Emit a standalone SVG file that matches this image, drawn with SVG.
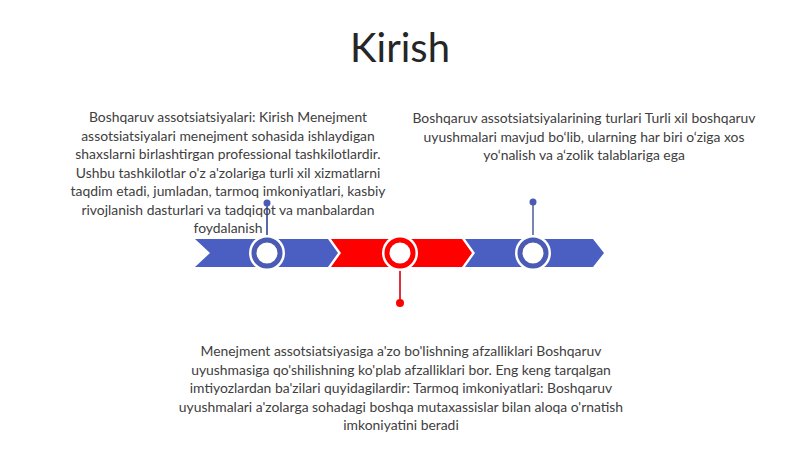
<svg xmlns="http://www.w3.org/2000/svg" width="800" height="449" viewBox="0 0 800 449">
<style>
.t{font-family:Lato,"Open Sans","Liberation Sans",sans-serif;font-size:13.9px;fill:#404040;text-anchor:middle}
.title{font-family:Lato,"Open Sans","Liberation Sans",sans-serif;font-size:40px;fill:#262626;text-anchor:middle}
.blue{fill:#4B5FC2}
.red{fill:#FF0000}
.ringb{fill:#FFFFFF;stroke:#4B5AB3;stroke-width:5}
.ringr{fill:#FFFFFF;stroke:#FF0000;stroke-width:5}
.halo{fill:#FFFFFF}
</style>
<rect width="800" height="449" fill="#FFFFFF"/>
<text class="title" x="400" y="62">Kirish</text>
<g id="band">
<polygon class="blue" points="195,239 328,239 338,253 328,267 195,267 210,253"/>
<polygon class="red" points="331,239 462,239 472,253 462,267 331,267 341,253"/>
<polygon class="blue" points="465,239 593,239 604,253 593,267 465,267 475,253"/>
</g>
<g id="connectors">
<line x1="267" y1="203" x2="267" y2="240" stroke="#5A6AA8" stroke-width="2"/>
<circle cx="267" cy="203" r="3.5" fill="#4B5AB3"/>
<line x1="533" y1="202" x2="533" y2="240" stroke="#7A86B0" stroke-width="2"/>
<circle cx="533" cy="202" r="3.5" fill="#4B5AB3"/>
<line x1="400" y1="266" x2="400" y2="303" stroke="#E0303A" stroke-width="2"/>
<circle cx="400" cy="303" r="4" fill="#FF0000"/>
</g>
<g id="node1">
<circle class="halo" cx="267" cy="253" r="18"/>
<circle class="ringb" cx="267" cy="253" r="13"/>
<text class="t" x="228" y="122">Boshqaruv assotsiatsiyalari: Kirish Menejment</text>
<text class="t" x="228" y="140.5">assotsiatsiyalari menejment sohasida ishlaydigan</text>
<text class="t" x="228" y="159">shaxslarni birlashtirgan professional tashkilotlardir.</text>
<text class="t" x="228" y="177.5">Ushbu tashkilotlar o'z a'zolariga turli xil xizmatlarni</text>
<text class="t" x="228" y="196">taqdim etadi, jumladan, tarmoq imkoniyatlari, kasbiy</text>
<text class="t" x="228" y="214.5">rivojlanish dasturlari va tadqiqot va manbalardan</text>
<text class="t" x="228" y="233">foydalanish</text>
</g>
<g id="node2">
<circle class="halo" cx="400" cy="253" r="18"/>
<circle class="ringr" cx="400" cy="253" r="13"/>
<text class="t" x="401" y="356">Menejment assotsiatsiyasiga a'zo bo'lishning afzalliklari Boshqaruv</text>
<text class="t" x="401" y="374.5">uyushmasiga qo'shilishning ko'plab afzalliklari bor. Eng keng tarqalgan</text>
<text class="t" x="401" y="393">imtiyozlardan ba'zilari quyidagilardir: Tarmoq imkoniyatlari: Boshqaruv</text>
<text class="t" x="401" y="411.5">uyushmalari a'zolarga sohadagi boshqa mutaxassislar bilan aloqa o'rnatish</text>
<text class="t" x="401" y="430">imkoniyatini beradi</text>
</g>
<g id="node3">
<circle class="halo" cx="533" cy="253" r="18"/>
<circle class="ringb" cx="533" cy="253" r="13"/>
<text class="t" x="584" y="123">Boshqaruv assotsiatsiyalarining turlari Turli xil boshqaruv</text>
<text class="t" x="584" y="141.5">uyushmalari mavjud bo‘lib, ularning har biri o‘ziga xos</text>
<text class="t" x="584" y="160">yo‘nalish va a‘zolik talablariga ega</text>
</g>
</svg>
